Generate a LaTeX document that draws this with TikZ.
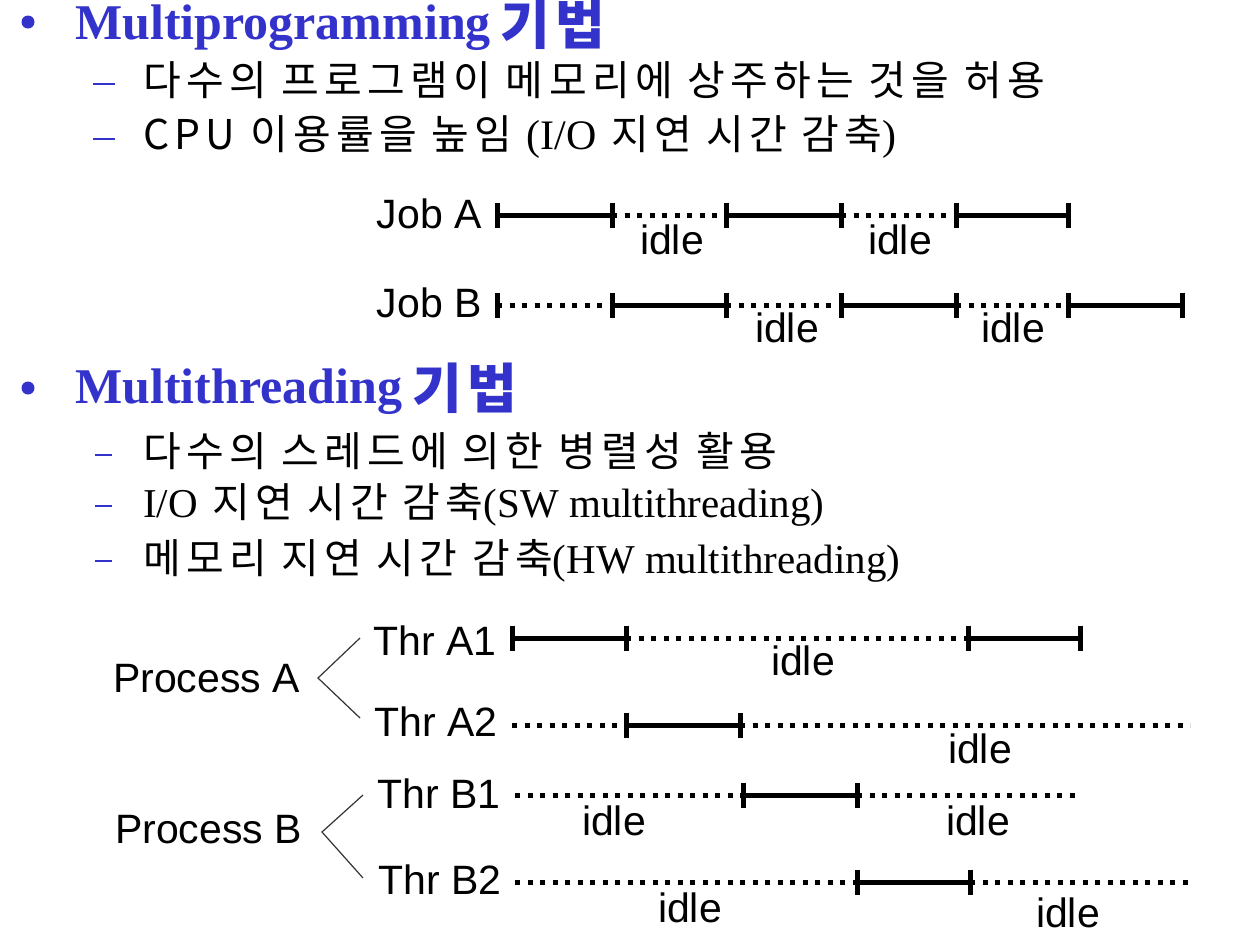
\documentclass[tikz,border=0pt]{standalone}
\usepackage{fontspec}
\setmainfont{Liberation Serif}
\newfontfamily\ko[LetterSpace=13]{Noto Sans CJK KR}
\newfontfamily\kohead[LetterSpace=10]{Noto Sans CJK KR}
\newfontfamily\hv{Liberation Sans}
\definecolor{hb}{RGB}{51,51,204}
\begin{document}
\begin{tikzpicture}[x=1pt,y=-1pt,
  head/.style={anchor=base west, text=hb, inner sep=0pt, font=\fontsize{50}{50}\selectfont\bfseries},
  khead/.style={anchor=base west, text=hb, inner sep=0pt, font=\fontsize{54}{54}\selectfont\kohead\bfseries},
  dsh/.style={hb, line width=2.6pt},
  dshthin/.style={hb, line width=1.8pt},
  item/.style={anchor=base west, inner sep=0pt, font=\fontsize{41}{41}\selectfont\ko},
  lab/.style={anchor=base east, inner sep=0pt, font=\fontsize{41}{41}\selectfont\hv},
  plab/.style={anchor=base west, inner sep=0pt, font=\fontsize{41}{41}\selectfont\hv},
  idl/.style={anchor=base, inner sep=0pt, font=\fontsize{41}{41}\selectfont\hv},
  solidseg/.style={line width=5pt},
  dotseg/.style={line width=5pt, dash pattern=on 5pt off 7.5pt},
  tickmark/.style={line width=5pt},
  brk/.style={line width=1.2pt, black!80}
]
\useasboundingbox[fill=white] (0,0) rectangle (1234,948);

% ---------- Section 1 ----------
\coordinate (b1) at (28,22);
\fill[hb] (b1) circle (6.5pt);
\node[head] (h1) at (75,39) {Multiprogramming};
\node[khead] (k1) at (500,44) {기법};
\coordinate (d11a) at (93,84); \coordinate (d11b) at (115,84);
\draw[dsh] (d11a) -- (d11b);
\node[item] (i11) at (143,95) {다수의 프로그램이 메모리에 상주하는 것을 허용};
\coordinate (d12a) at (93,139); \coordinate (d12b) at (115,139);
\draw[dsh] (d12a) -- (d12b);
\node[item] (i12) at (143,149) {CPU 이용률을 높임 {\rmfamily\fontsize{42}{42}\selectfont(I/O} 지연 시간 감축{\rmfamily\fontsize{42}{42}\selectfont )}};

% Job A / Job B
\node[lab] (ja) at (482,228) {Job A};
\node[lab] (jb) at (482,317) {Job B};
\foreach \n/\x in {0/497,1/612,2/726,3/841,4/956,5/1068,6/1182}{
  \coordinate (a\n) at (\x,215);
  \coordinate (b\n) at (\x,305);
}
\draw[solidseg] (a0) -- (a1);
\draw[dotseg] (a1) -- (a2);
\draw[solidseg] (a2) -- (a3);
\draw[dotseg] (a3) -- (a4);
\draw[solidseg] (a4) -- (a5);
\foreach \n in {0,...,5}{\draw[tickmark] ([yshift=12.5pt]a\n) -- ([yshift=-12.5pt]a\n);}
\draw[dotseg] (b0) -- (b1);
\draw[solidseg] (b1) -- (b2);
\draw[dotseg] (b2) -- (b3);
\draw[solidseg] (b3) -- (b4);
\draw[dotseg] (b4) -- (b5);
\draw[solidseg] (b5) -- (b6);
\foreach \n in {0,...,6}{\draw[tickmark] ([yshift=12.5pt]b\n) -- ([yshift=-12.5pt]b\n);}
\node[idl] (ia1) at (672,254) {idle};
\node[idl] (ia2) at (900,254) {idle};
\node[idl] (ib1) at (787,342) {idle};
\node[idl] (ib2) at (1013,342) {idle};

% ---------- Section 2 ----------
\coordinate (b2) at (28,388);
\fill[hb] (b2) circle (6.5pt);
\node[head] (h2) at (75,403) {Multithreading};
\node[khead] (k2) at (412,408) {기법};
\coordinate (d21a) at (95,455); \coordinate (d21b) at (112,455);
\draw[dshthin] (d21a) -- (d21b);
\node[item] (i21) at (143,466) {다수의 스레드에 의한 병렬성 활용};
\coordinate (d22a) at (95,506); \coordinate (d22b) at (112,506);
\draw[dshthin] (d22a) -- (d22b);
\node[item] (i22) at (143,517) {{\rmfamily\fontsize{41}{41}\selectfont I/O} 지연 시간 감축{\rmfamily\fontsize{41}{41}\selectfont(SW multithreading)}};
\coordinate (d23a) at (95,561); \coordinate (d23b) at (112,561);
\draw[dshthin] (d23a) -- (d23b);
\node[item] (i23) at (143,573) {메모리 지연 시간 감축{\rmfamily\fontsize{41}{41}\selectfont(HW multithreading)}};

% Process labels and brackets
\node[plab] (pa) at (113,692) {Process A};
\node[plab] (pb) at (115,843) {Process B};
\coordinate (pa1) at (360,638); \coordinate (pa0) at (318,678); \coordinate (pa2) at (360,718);
\coordinate (pb1) at (363,795); \coordinate (pb0) at (322,832); \coordinate (pb2) at (363,878);
\draw[brk] (pa1) -- (pa0) -- (pa2);
\draw[brk] (pb1) -- (pb0) -- (pb2);

\node[lab] (ta1) at (497,655) {Thr A1};
\node[lab] (ta2) at (498,736) {Thr A2};
\node[lab] (tb1) at (501,808) {Thr B1};
\node[lab] (tb2) at (502,894) {Thr B2};

% Thr A1
\coordinate (p0) at (512,638); \coordinate (p1) at (626,638);
\coordinate (p2) at (968,638); \coordinate (p3) at (1080,638);
\draw[solidseg] (p0) -- (p1);
\draw[dotseg] (p1) -- (p2);
\draw[solidseg] (p2) -- (p3);
\foreach \n in {0,...,3}{\draw[tickmark] ([yshift=12.5pt]p\n) -- ([yshift=-12.5pt]p\n);}
% Thr A2
\coordinate (q0) at (512,725); \coordinate (q1) at (626,725);
\coordinate (q2) at (740,725); \coordinate (q3) at (1190,725);
\draw[dotseg] (q0) -- (q1);
\draw[solidseg] (q1) -- (q2);
\draw[dotseg] (q2) -- (q3);
\foreach \n in {1,2}{\draw[tickmark] ([yshift=12.5pt]q\n) -- ([yshift=-12.5pt]q\n);}
% Thr B1
\coordinate (r0) at (515,795); \coordinate (r1) at (743,795);
\coordinate (r2) at (857,795); \coordinate (r3) at (1078,795);
\draw[dotseg] (r0) -- (r1);
\draw[solidseg] (r1) -- (r2);
\draw[dotseg] (r2) -- (r3);
\foreach \n in {1,2}{\draw[tickmark] ([yshift=12.5pt]r\n) -- ([yshift=-12.5pt]r\n);}
% Thr B2
\coordinate (s0) at (515,882); \coordinate (s1) at (857,882);
\coordinate (s2) at (970,882); \coordinate (s3) at (1192,882);
\draw[dotseg] (s0) -- (s1);
\draw[solidseg] (s1) -- (s2);
\draw[dotseg] (s2) -- (s3);
\foreach \n in {1,2}{\draw[tickmark] ([yshift=12.5pt]s\n) -- ([yshift=-12.5pt]s\n);}

\node[idl] (ip1) at (803,675) {idle};
\node[idl] (iq1) at (980,763) {idle};
\node[idl] (ir1) at (614,835) {idle};
\node[idl] (ir2) at (978,835) {idle};
\node[idl] (is1) at (690,922) {idle};
\node[idl] (is2) at (1068,927) {idle};
\end{tikzpicture}
\end{document}
